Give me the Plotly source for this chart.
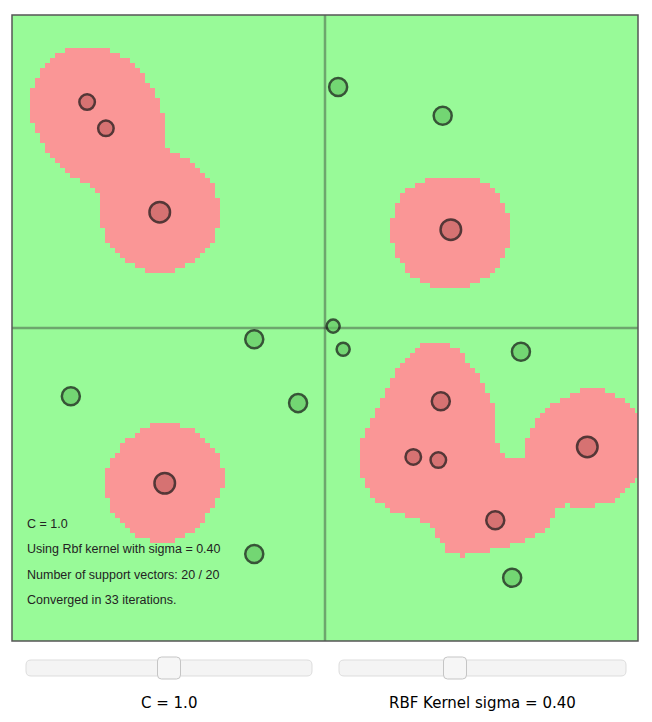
import numpy as np
import plotly.graph_objects as go

# ---- data (model units, canvas-style: y grows downward) ----
red_x = [-3.80, -3.50, -2.64, 2.01, -2.56, 1.85, 1.41, 1.81, 2.72, 4.19]
red_y = [-3.61, -3.19, -1.85, -1.57, 2.48, 1.17, 2.06, 2.11, 3.07, 1.90]
green_x = [0.21, 1.88, 0.13, 0.29, -1.13, -4.06, -0.43, -1.13, 3.13, 2.99]
green_y = [-3.85, -3.39, -0.03, 0.34, 0.18, 1.09, 1.20, 3.61, 0.38, 3.99]
red_alpha = [0.7, 0.7, 1.0, 1.0, 1.0, 0.85, 0.7, 0.7, 0.85, 1.0]
green_alpha = [0.85, 0.85, 0.5, 0.5, 0.85, 0.85, 0.85, 0.85, 0.85, 0.85]
C_PARAM = 1.0
SIGMA = 0.40
AXIS_EXTENT = [-5.0, 5.0]
info_lines = ["C = 1.0",
              "Using Rbf kernel with sigma = 0.40",
              "Number of support vectors: 20 / 20",
              "Converged in 33 iterations."]
slider_labels = ["C = 1.0", "RBF Kernel sigma = 0.40"]
slider_fracs = [0.5, 0.4]   # handle position along track

# ---- train RBF SVM (SMO) ----
X = np.array(list(zip(red_x + green_x, red_y + green_y)))
Y = np.array([-1.0] * len(red_x) + [1.0] * len(green_x))


def rbf(A, B, s):
    d2 = ((A[:, None, :] - B[None, :, :]) ** 2).sum(-1)
    return np.exp(-d2 / (2 * s * s))


def train(X, y, C, s, tol=1e-9, max_iter=200000):
    K = rbf(X, X, s)
    Q = (y[:, None] * y[None, :]) * K
    a = np.zeros(len(y))
    G = -np.ones(len(y))
    eps = 1e-12
    for _ in range(max_iter):
        yG = -y * G
        up = ((y > 0) & (a < C - eps)) | ((y < 0) & (a > eps))
        low = ((y > 0) & (a > eps)) | ((y < 0) & (a < C - eps))
        iu = np.where(up)[0]
        il = np.where(low)[0]
        i = iu[np.argmax(yG[iu])]
        j = il[np.argmin(yG[il])]
        gap = yG[i] - yG[j]
        if gap < tol:
            break
        quad = max(K[i, i] + K[j, j] - 2 * K[i, j], 1e-12)
        t = gap / quad
        t = min(t, (C - a[i]) if y[i] > 0 else a[i])
        t = min(t, a[j] if y[j] > 0 else (C - a[j]))
        a[i] += y[i] * t
        a[j] -= y[j] * t
        G += t * (y[i] * Q[:, i] - y[j] * Q[:, j])
    yG = -y * G
    up = ((y > 0) & (a < C - eps)) | ((y < 0) & (a > eps))
    low = ((y > 0) & (a > eps)) | ((y < 0) & (a < C - eps))
    b = (yG[up].max() + yG[low].min()) / 2
    return a, b


alpha, bias = train(X, Y, C_PARAM, SIGMA)

# decision field on the demo's grid (density 4 canvas px, 50 px per unit)
gx = np.arange(0, 126) * 0.08 - 5.0
gy = np.arange(0, 126) * 0.08 - 5.0
GX, GY = np.meshgrid(gx, gy)
P = np.column_stack([GX.ravel(), GY.ravel()])
f = rbf(P, X, SIGMA) @ (alpha * Y) + bias
Z = (f > 0).astype(float).reshape(GX.shape)

# ---- figure geometry (pixels) ----
W, H = 652, 722
L, R, T, B = 12, 638, 15, 641
PW = R - L
SCALE = PW / 10.0


def px(xp):
    return (xp - L) / PW


def py(yp):
    return (B - yp) / (B - T)


fig = go.Figure()
fig.add_trace(go.Heatmap(x=gx, y=gy, z=Z, zmin=0, zmax=1, showscale=False,
                         colorscale=[[0, "rgb(250,150,150)"], [1, "rgb(152,250,152)"]],
                         hoverinfo="skip"))

# axes through the origin (under the points)
axis_line = dict(color="rgba(50,50,50,0.42)", width=2.5)
fig.add_trace(go.Scatter(x=[0, 0], y=AXIS_EXTENT, mode="lines", line=axis_line, hoverinfo="skip"))
fig.add_trace(go.Scatter(x=AXIS_EXTENT, y=[0, 0], mode="lines", line=axis_line, hoverinfo="skip"))


def sizes(a):
    return [2 * np.floor(3 + v * 5.0 / C_PARAM) * SCALE / 50.0 + 0.5 for v in a]


fig.add_trace(go.Scatter(x=red_x, y=red_y, mode="markers", hoverinfo="skip",
                         marker=dict(color="rgb(200,100,100)", size=sizes(red_alpha),
                                     line=dict(color="rgb(15,15,15)", width=2.5))))
fig.add_trace(go.Scatter(x=green_x, y=green_y, mode="markers", hoverinfo="skip",
                         marker=dict(color="rgb(100,200,100)", size=sizes(green_alpha),
                                     line=dict(color="rgb(15,15,15)", width=2.5))))

shapes = []
# border
shapes.append(dict(type="rect", xref="paper", yref="paper", x0=0, x1=1, y0=0, y1=1,
                   line=dict(color="rgb(85,85,85)", width=1.5)))


def rounded(x0, y0, x1, y1, r):
    pts = [
        f"M {px(x0 + r)},{py(y0)}",
        f"L {px(x1 - r)},{py(y0)}",
        f"Q {px(x1)},{py(y0)} {px(x1)},{py(y0 + r)}",
        f"L {px(x1)},{py(y1 - r)}",
        f"Q {px(x1)},{py(y1)} {px(x1 - r)},{py(y1)}",
        f"L {px(x0 + r)},{py(y1)}",
        f"Q {px(x0)},{py(y1)} {px(x0)},{py(y1 - r)}",
        f"L {px(x0)},{py(y0 + r)}",
        f"Q {px(x0)},{py(y0)} {px(x0 + r)},{py(y0)}",
        "Z",
    ]
    return " ".join(pts)


tracks = [(26, 312), (339, 626)]
for (tx0, tx1), frac in zip(tracks, slider_fracs):
    shapes.append(dict(type="path", xref="paper", yref="paper",
                       path=rounded(tx0, 660, tx1, 676, 5),
                       fillcolor="rgb(244,244,244)", line=dict(color="rgb(221,221,221)", width=1)))
    hc = tx0 + 6 + frac * (tx1 - tx0 - 12)
    shapes.append(dict(type="path", xref="paper", yref="paper",
                       path=rounded(hc - 11.5, 657, hc + 11.5, 679, 4),
                       fillcolor="rgb(246,246,246)", line=dict(color="rgb(197,197,197)", width=1)))

annotations = []
for k, line in enumerate(info_lines):
    annotations.append(dict(text=line, xref="paper", yref="paper", x=px(25), y=py(524 + 25.3 * k),
                            xanchor="left", yanchor="middle", showarrow=False,
                            font=dict(family="Liberation Sans, Arial", size=12.5, color="rgb(35,35,35)")))
for (tx0, tx1), lab in zip(tracks, slider_labels):
    annotations.append(dict(text=lab, xref="paper", yref="paper", x=px((tx0 + tx1) / 2), y=py(703),
                            xanchor="center", yanchor="middle", showarrow=False,
                            font=dict(family="DejaVu Sans", size=15, color="rgb(0,0,0)")))

fig.update_layout(
    width=W, height=H,
    margin=dict(l=L, r=W - R, t=T, b=H - B, pad=0),
    paper_bgcolor="white", plot_bgcolor="rgb(152,250,152)",
    showlegend=False, hovermode=False,
    xaxis=dict(range=[-5, 5], visible=False, fixedrange=True),
    yaxis=dict(range=[5, -5], visible=False, fixedrange=True),
    shapes=shapes, annotations=annotations,
)

fig.write_html("out.html", config={"displayModeBar": False, "staticPlot": True})
